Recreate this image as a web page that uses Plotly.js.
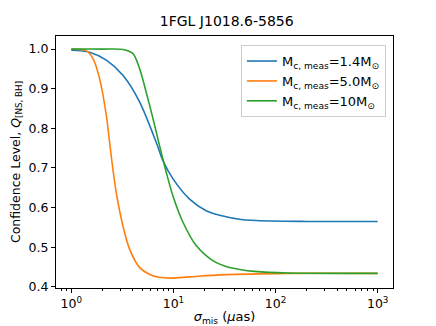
<!DOCTYPE html>
<html>
<head>
<meta charset="utf-8">
<script src="https://cdn.plot.ly/plotly-3.0.1.min.js"></script>
<style>
  html, body { margin: 0; padding: 0; background: #fff; }
  #chart { width: 436px; height: 326px; }
</style>
</head>
<body>
<div id="chart"></div>
<script>
// curves: sigma_mis (uas) vs confidence level Q
const sigmaBlue = [1.0, 1.51, 2.2, 3.2, 4.66, 6.78, 7.87, 9.87, 14.3, 20.9, 29, 46, 90, 200, 1000];
const qBlue = [0.997, 0.992, 0.972, 0.934, 0.867, 0.765, 0.719, 0.673, 0.622, 0.592, 0.580, 0.570, 0.566, 0.565, 0.565];

const sigmaOrange = [1.0, 1.4, 1.63, 1.89, 2.2, 2.37, 2.55, 2.75, 3.2, 3.72, 4.66, 6.28, 9.1, 14.3, 29, 130, 1000];
const qOrange = [1.0, 0.996, 0.976, 0.926, 0.833, 0.765, 0.698, 0.639, 0.554, 0.495, 0.449, 0.428, 0.422, 0.425, 0.430, 0.434, 0.434];

const sigmaGreen = [1.0, 2.0, 3.2, 4.0, 4.66, 5.4, 6.3, 7.3, 8.5, 9.87, 12.4, 16.7, 24.3, 32.7, 46, 62, 131, 1000];
const qGreen = [1.0, 1.0, 0.999, 0.989, 0.951, 0.892, 0.825, 0.757, 0.689, 0.630, 0.563, 0.504, 0.466, 0.451, 0.443, 0.439, 0.435, 0.434];

const seriesNames = [
  'M<sub>c, meas</sub>=1.4M<sub>⊙</sub>',
  'M<sub>c, meas</sub>=5.0M<sub>⊙</sub>',
  'M<sub>c, meas</sub>=10M<sub>⊙</sub>'
];
const xTickVals = [1, 10, 100, 1000];
const xTickText = ['10<sup>0</sup>', '10<sup>1</sup>', '10<sup>2</sup>', '10<sup>3</sup>'];

const font = 'DejaVu Sans, sans-serif';

function curve(x, y, name, color) {
  return {
    x: x, y: y, name: name,
    type: 'scatter', mode: 'lines',
    line: { color: color, width: 1.6, shape: 'spline', smoothing: 0.8 }
  };
}

const traces = [
  curve(sigmaBlue, qBlue, seriesNames[0], '#1f77b4'),
  curve(sigmaOrange, qOrange, seriesNames[1], '#ff7f0e'),
  curve(sigmaGreen, qGreen, seriesNames[2], '#2ca02c')
];

const layout = {
  width: 436, height: 326,
  margin: { l: 56, r: 43, t: 36, b: 38 },
  paper_bgcolor: '#fff', plot_bgcolor: '#fff',
  font: { family: font, size: 12, color: '#000' },
  title: { text: '1FGL J1018.6-5856', x: 0.52, xanchor: 'center', y: 0.95, font: { size: 14 } },
  showlegend: true,
  legend: {
    x: 0.979, y: 0.964, xanchor: 'right', yanchor: 'top',
    bgcolor: '#fff', bordercolor: '#ccc', borderwidth: 1,
    font: { size: 13 }, tracegroupgap: 0
  },
  xaxis: {
    type: 'log', range: [-0.15, 3.15],
    tickvals: xTickVals, ticktext: xTickText,
    ticks: 'outside', ticklen: 4, tickcolor: '#000',
    tickfont: { size: 12.5 },
    minor: { ticks: 'outside', ticklen: 2, tickcolor: '#000', dtick: 'D1' },
    showgrid: false, zeroline: false,
    showline: true, mirror: true, linecolor: '#000', linewidth: 1,
    title: { text: '<i>σ</i><sub>mis</sub> (<i>μ</i>as)', standoff: 2, font: { size: 13 } }
  },
  yaxis: {
    range: [0.397, 1.033],
    dtick: 0.1, tick0: 0.4, tickformat: '.1f',
    ticks: 'outside', ticklen: 4, tickcolor: '#000',
    tickfont: { size: 12.5 },
    showgrid: false, zeroline: false,
    showline: true, mirror: true, linecolor: '#000', linewidth: 1,
    title: { text: 'Confidence Level, <i>Q</i><sub>[NS, BH]</sub>', standoff: 5, font: { size: 12.5 } }
  }
};

Plotly.newPlot('chart', traces, layout, { staticPlot: true });
</script>
</body>
</html>
